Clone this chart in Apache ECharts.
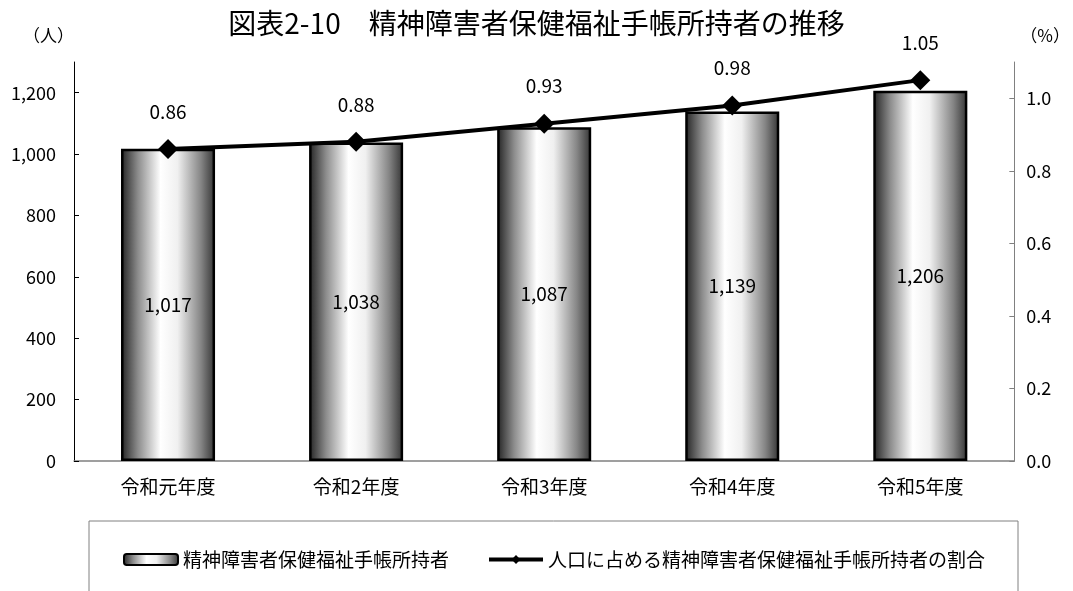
<!DOCTYPE html>
<html>
<head>
<meta charset="utf-8">
<script src="https://cdn.jsdelivr.net/npm/echarts@6/dist/echarts.min.js"></script>
<style>
  html, body { margin: 0; padding: 0; background: #fff; }
  #chart { width: 1073px; height: 591px; }
</style>
</head>
<body>
<div id="chart"></div>
<script>
// data
const categories = ["令和元年度", "令和2年度", "令和3年度", "令和4年度", "令和5年度"];
const holders = [1017, 1038, 1087, 1139, 1206];
const ratio = [0.86, 0.88, 0.93, 0.98, 1.05];
const barName = "精神障害者保健福祉手帳所持者";
const lineName = "人口に占める精神障害者保健福祉手帳所持者の割合";

const font = "'Noto Sans CJK JP', 'Noto Sans', sans-serif";

const barFill = new echarts.graphic.LinearGradient(0, 0, 1, 0, [
  { offset: 0, color: "#222222" },
  { offset: 0.18, color: "#8c8c8c" },
  { offset: 0.42, color: "#ffffff" },
  { offset: 0.6, color: "#f0f0f0" },
  { offset: 0.85, color: "#858585" },
  { offset: 1, color: "#333333" },
]);

const chart = echarts.init(document.getElementById("chart"));
chart.setOption({
  animation: false,
  textStyle: { fontFamily: font, color: "#000" },
  title: {
    text: "図表2-10　精神障害者保健福祉手帳所持者の推移",
    left: "center",
    top: 4,
    textStyle: { fontFamily: font, fontSize: 28, fontWeight: "normal", color: "#000" },
  },
  grid: { left: 74, right: 52, top: 62, bottom: 130 },
  legend: {
    top: 545,
    left: 118,
    itemGap: 38,
    itemWidth: 54,
    itemHeight: 11,
    textStyle: { fontFamily: font, fontSize: 19, color: "#000" },
    data: [
      { name: barName },
      { name: lineName, lineStyle: { width: 4, color: "#000" } },
    ],
  },
  graphic: [
    {
      type: "rect",
      shape: { x: 89, y: 521, width: 929, height: 90 },
      style: { fill: "none", stroke: "#808080", lineWidth: 1 },
      silent: true,
    },
  ],
  xAxis: {
    type: "category",
    data: categories,
    axisLine: { lineStyle: { color: "#808080", width: 1.5 } },
    axisTick: { inside: true, length: 6, lineStyle: { color: "#808080" } },
    axisLabel: { fontSize: 19, color: "#000", margin: 16 },
  },
  yAxis: [
    {
      type: "value",
      min: 0,
      max: 1300,
      interval: 200,
      name: "（人）",
      nameLocation: "end",
      nameGap: 18,
      nameTextStyle: { fontSize: 17, color: "#000", align: "right", padding: [0, 0, 0, 0] },
      axisLine: { show: true, lineStyle: { color: "#000", width: 1 } },
      axisTick: { show: true, inside: true, length: 5, lineStyle: { color: "#000" } },
      axisLabel: {
        fontSize: 18, color: "#000", margin: 18, showMaxLabel: false,
        formatter: (v) => v.toLocaleString("en-US"),
      },
      splitLine: { show: false },
    },
    {
      type: "value",
      min: 0,
      max: 1.1,
      interval: 0.2,
      name: "（%）",
      nameLocation: "end",
      nameGap: 18,
      nameTextStyle: { fontSize: 17, color: "#000", align: "left", padding: [0, 0, 0, 6] },
      axisLine: { show: true, lineStyle: { color: "#808080", width: 1 } },
      axisTick: { show: true, inside: true, length: 5, lineStyle: { color: "#808080" } },
      axisLabel: {
        fontSize: 18, color: "#000", margin: 12, showMaxLabel: false,
        formatter: (v) => v.toFixed(1),
      },
      splitLine: { show: false },
    },
  ],
  series: [
    {
      name: barName,
      type: "bar",
      data: holders,
      barWidth: "50%",
      itemStyle: { color: barFill, borderColor: "#000", borderWidth: 2.5 },
      label: {
        show: true,
        position: "inside",
        fontSize: 19,
        color: "#000",
        formatter: (p) => p.value.toLocaleString("en-US"),
      },
    },
    {
      name: lineName,
      type: "line",
      yAxisIndex: 1,
      data: ratio,
      symbol: "diamond",
      symbolSize: 20,
      lineStyle: { color: "#000", width: 4 },
      itemStyle: { color: "#000" },
      label: {
        show: true,
        position: "top",
        distance: 18,
        fontSize: 19,
        color: "#000",
        formatter: (p) => p.value.toFixed(2),
      },
      z: 5,
    },
  ],
});
</script>
</body>
</html>
